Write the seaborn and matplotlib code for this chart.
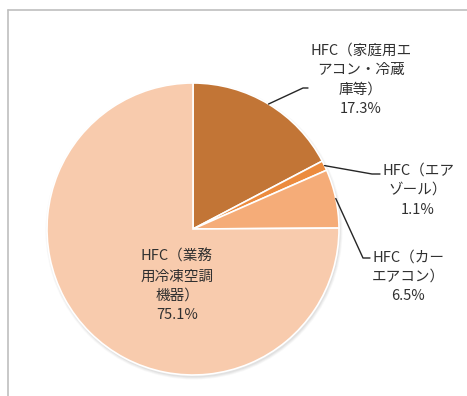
import numpy as np
import matplotlib
matplotlib.use("Agg")
import matplotlib.pyplot as plt
from matplotlib.patches import Circle
from matplotlib.lines import Line2D
import seaborn as sns

# Share of HFC emissions by source
categories = [
    "HFC（家庭用エ\nアコン・冷蔵\n庫等）",
    "HFC（エア\nゾール）",
    "HFC（カー\nエアコン）",
    "HFC（業務\n用冷凍空調\n機器）",
]
shares = [17.3, 1.1, 6.5, 75.1]
colors = ["#C27536", "#EC8B3E", "#F5AC78", "#F8CBAD"]

sns.set_theme(style="white")
plt.rcParams["font.family"] = ["Noto Sans CJK JP", "DejaVu Sans"]

W, H = 467, 396
fig = plt.figure(figsize=(W / 100, H / 100), dpi=100)
ax = fig.add_axes([0, 0, 1, 1])
ax.set_xlim(0, W)
ax.set_ylim(0, H)
ax.set_aspect("equal")
ax.axis("off")

# chart area frame (top and left edges visible)
ax.add_line(Line2D([8, W], [H - 10, H - 10], color="#BFBFBF", lw=1.2))
ax.add_line(Line2D([8, 8], [H - 10, 0], color="#BFBFBF", lw=1.2))

cx, cy, r = 193, 167, 146

# soft drop shadow under the pie
for i, a in enumerate([0.06, 0.08, 0.10]):
    ax.add_patch(Circle((cx + 1, cy - 2), r + 2.5 - i, color="#808080",
                        alpha=a, lw=0, zorder=1))

wedges, _ = ax.pie(
    shares, colors=colors, startangle=90, counterclock=False,
    center=(cx, cy), radius=r, frame=True,
    wedgeprops=dict(edgecolor="white", linewidth=1.2),
)
for w in wedges:
    w.set_zorder(2)
ax.set_xlim(0, W)
ax.set_ylim(0, H)
ax.axis("off")

text_kw = dict(ha="center", va="center", multialignment="center",
               fontsize=10.5, color="#303030", linespacing=1.5, zorder=5)

labels = [f"{c}\n{v}%" for c, v in zip(categories, shares)]

# outside labels: (text centre, elbow point, line end near text)
outside = {
    0: ((361, H - 80), (303, H - 88), (308, H - 88)),
    1: ((418, H - 190), (372, H - 174), (380, H - 174)),
    2: ((408, H - 277), (363, H - 258), (370, H - 258)),
}

cum = np.cumsum([0] + shares)
for i, (w, lab) in enumerate(zip(wedges, labels)):
    mid = (cum[i] + cum[i + 1]) / 2 / 100 * 2 * np.pi
    ex, ey = cx + r * np.sin(mid), cy + r * np.cos(mid)
    if i in outside:
        (tx, ty), (bx, by), (lx, ly) = outside[i]
        ax.plot([ex, bx, lx], [ey, by, ly], color="#262626", lw=1, zorder=4)
        ax.text(tx, ty, lab, **text_kw)
    else:
        ax.text(177, H - 286, lab, **text_kw)

fig.savefig("out.png", dpi=100)
